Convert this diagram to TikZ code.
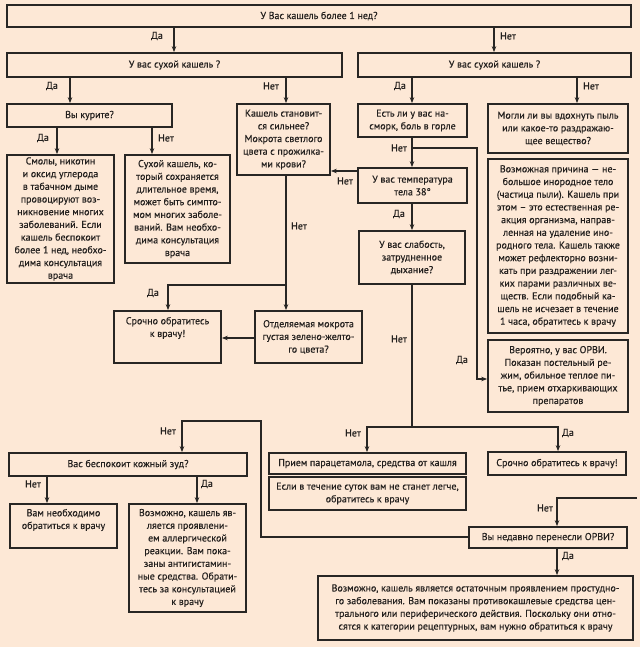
\documentclass[tikz,border=0pt]{standalone}
\usepackage{fontspec}
\setmainfont[FakeBold=0.35]{PT Sans}
\usetikzlibrary{arrows.meta}
\definecolor{bg}{RGB}{253,232,214}
\definecolor{ln}{RGB}{40,38,36}
\definecolor{txt}{RGB}{35,32,30}
\newcommand\mybox[6]{\node[box,minimum width={(#4-#2)*1pt},minimum height={(#5-#3)*1pt}] (#1) at ({(#2+#4)/2},{(#3+#5)/2}) {#6};}
\begin{document}
\begin{tikzpicture}[x=1pt,y=-1pt,
  box/.style={draw=ln,line width=1.7pt,inner sep=1pt,align=center,font=\fontsize{10}{12.7}\selectfont,text=txt},
  arr/.style={draw=ln,line width=1.1pt,-{Stealth[length=6pt,width=4.5pt]}},
  con/.style={draw=ln,line width=1.1pt},
  lab/.style={font=\fontsize{10}{12}\selectfont,text=txt,inner sep=0pt}]
\fill[bg] (0,0) rectangle (640,647);
\useasboundingbox (0,0) rectangle (640,647);
% x and y helper coordinates
\foreach \xx in {47,57,70,152,168,174,182,197,286,367,412,494,557,558,577}{\coordinate (c\xx) at (\xx,0);}
\foreach \yy in {171,338,537}{\coordinate (r\yy) at (0,\yy);}
% boxes
\mybox{top}{7}{5}{631}{27}{У Вас кашель более 1 нед?}
\mybox{Ldry}{7}{53}{342}{77}{У вас сухой кашель ?}
\mybox{Rdry}{358}{53}{631}{77}{У вас сухой кашель ?}
\mybox{kur}{7}{104}{172}{127}{Вы курите?}
\mybox{sil}{237}{104}{330}{175}{Кашель становит-\\ся сильнее?\\Мокрота светлого\\цвета с прожилка-\\ми крови?}
\mybox{nas}{358}{104}{467}{137}{Есть ли у вас на-\\сморк, боль в горле}
\mybox{pyl}{488}{104}{628}{153}{Могли ли вы вдохнуть пыль\\или какое-то раздражаю-\\щее вещество?}
\mybox{smoke}{7}{155}{114}{283}{Смолы, никотин\\и оксид углерода\\в табачном дыме\\провоцируют воз-\\никновение многих\\заболеваний. Если\\кашель беспокоит\\более 1 нед, необхо-\\дима консультация\\врача}
\mybox{dry}{125}{155}{230}{263}{Сухой кашель, ко-\\торый сохраняется\\длительное время,\\может быть симпто-\\мом многих заболе-\\ваний. Вам необхо-\\дима консультация\\врача}
\mybox{temp}{358}{168}{467}{203}{У вас температура\\тела 38°}
\mybox{foreign}{488}{159}{628}{333}{Возможная причина — не-\\большое инородное тело\\(частица пыли). Кашель при\\этом – это естественная ре-\\акция организма, направ-\\ленная на удаление ино-\\родного тела. Кашель также\\может рефлекторно возни-\\кать при раздражении лег-\\ких парами различных ве-\\ществ. Если подобный ка-\\шель не исчезает в течение\\1 часа, обратитесь к врачу}
\mybox{slab}{359}{231}{465}{284}{У вас слабость,\\затрудненное\\дыхание?}
\mybox{sr1}{114}{311}{221}{363}{\parbox[c][48pt][t]{100pt}{\centering\vspace*{4pt}Срочно обратитесь\\к врачу!}}
\mybox{otd}{255}{311}{362}{363}{Отделяемая мокрота\\густая зелено-желто-\\го цвета?}
\mybox{orvi}{488}{340}{628}{412}{Вероятно, у вас ОРВИ.\\Показан постельный ре-\\жим, обильное теплое пи-\\тье, прием отхаркивающих\\препаратов}
\mybox{para}{269}{453}{466}{474}{Прием парацетамола, средства от кашля}
\mybox{legche}{269}{477}{466}{510}{Если в течение суток вам не станет легче,\\обратитесь к врачу}
\mybox{sr2}{488}{452}{626}{475}{Срочно обратитесь к врачу!}
\mybox{zud}{9}{453}{247}{476}{Вас беспокоит кожный зуд?}
\mybox{vam}{10}{504}{117}{548}{\parbox[c][40pt][t]{100pt}{\centering\vspace*{3pt}Вам необходимо\\обратиться к врачу}}
\mybox{all}{129}{504}{246}{612}{Возможно, кашель яв-\\ляется проявлени-\\ем аллергической\\реакции. Вам пока-\\заны антигистамин-\\ные средства. Обрати-\\тесь за консультацией\\к врачу}
\mybox{orviq}{469}{527}{627}{548}{Вы недавно перенесли ОРВИ?}
\mybox{ost}{318}{576}{633}{640}{Возможно, кашель является остаточным проявлением простудно-\\го заболевания. Вам показаны противокашлевые средства цен-\\трального или периферического действия. Поскольку они отно-\\сятся к категории рецептурных, вам нужно обратиться к врачу}
% connectors
\draw[arr] (top.south -| c174) -- (Ldry.north -| c174);
\draw[arr] (top.south -| c494) -- (Rdry.north -| c494);
\draw[arr] (Ldry.south -| c70) -- (kur.north -| c70);
\draw[arr] (Ldry.south -| c286) -- (sil.north -| c286);
\draw[arr] (Rdry.south -| c412) -- (nas.north -| c412);
\draw[arr] (Rdry.south -| c577) -- (pyl.north -| c577);
\draw[arr] (kur.south -| c57) -- (smoke.north -| c57);
\draw[arr] (kur.south -| c152) -- (dry.north -| c152);
\coordinate (j1) at (286,285);
\draw[arr] (sil.south -| c286) -- (otd.north -| c286);
\draw[arr] (j1) -| (sr1.north -| c168);
\draw[arr] (otd.west |- r338) -- (sr1.east |- r338);
\draw[arr] (nas.south -| c412) -- (temp.north -| c412);
\coordinate (j2) at (412,148);
\coordinate (j3) at (477,379);
\draw[arr] (j2) -| (j3) -- (orvi.west |- j3);
\draw[arr] (temp.west |- r171) -- (sil.east |- r171);
\draw[arr] (temp.south -| c412) -- (slab.north -| c412);
\coordinate (j4) at (412,427);
\draw[con] (slab.south -| j4) -- (j4);
\draw[arr] (j4) -| (para.north -| c367);
\draw[arr] (j4) -| (sr2.north -| c558);
\coordinate (e1) at (637,498);
\draw[arr] (e1) -| (orviq.north -| c557);
\draw[arr] (orviq.south -| c557) -- (ost.north -| c557);
\coordinate (j5) at (261,421);
\draw[arr] (orviq.west |- r537) -| (j5) -| (zud.north -| c182);
\draw[arr] (zud.south -| c47) -- (vam.north -| c47);
\draw[arr] (zud.south -| c197) -- (all.north -| c197);
% labels
\node[lab] (l1) at (157,36) {Да};
\node[lab] (l2) at (508,36) {Нет};
\node[lab] (l3) at (52,86) {Да};
\node[lab] (l4) at (271,86) {Нет};
\node[lab] (l5) at (400,86) {Да};
\node[lab] (l6) at (591,86) {Нет};
\node[lab] (l7) at (43,138) {Да};
\node[lab] (l8) at (166,138) {Нет};
\node[lab] (l9) at (299,226) {Нет};
\node[lab] (l10) at (153,293) {Да};
\node[lab] (l11) at (399,148) {Нет};
\node[lab] (l12) at (345,181) {Нет};
\node[lab] (l13) at (399,214) {Да};
\node[lab] (l14) at (462,360) {Да};
\node[lab] (l15) at (399,339) {Нет};
\node[lab] (l16) at (353,433) {Нет};
\node[lab] (l17) at (568,433) {Да};
\node[lab] (l18) at (545,508) {Нет};
\node[lab] (l19) at (568,556) {Да};
\node[lab] (l20) at (168,431) {Нет};
\node[lab] (l21) at (33,484) {Нет};
\node[lab] (l22) at (207,484) {Да};
\end{tikzpicture}
\end{document}
